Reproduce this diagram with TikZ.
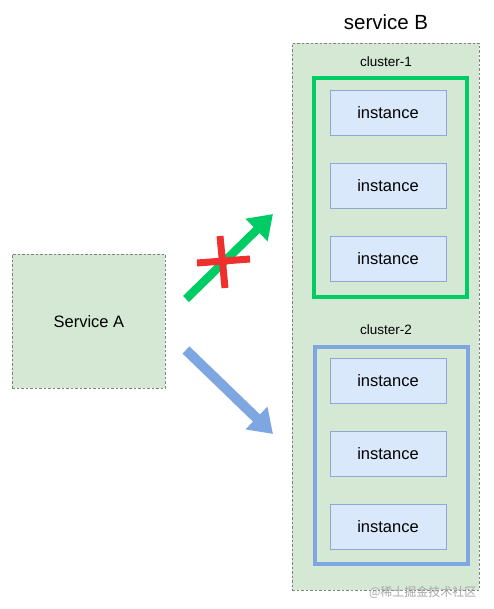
\documentclass[tikz,border=0pt]{standalone}
\usepackage{fontspec}
\setmainfont{Liberation Sans}
\newfontfamily\cjk{Noto Sans CJK SC}
\usetikzlibrary{arrows.meta}
\definecolor{bgreen}{HTML}{D5E8D4}
\definecolor{dgray}{HTML}{808080}
\definecolor{instfill}{HTML}{DAE8FC}
\definecolor{inststroke}{HTML}{8FA6D6}
\definecolor{clgreen}{HTML}{00CC66}
\definecolor{clblue}{HTML}{7EA6E0}
\definecolor{xred}{HTML}{F0302E}
\tikzset{
  svcbox/.style={draw=dgray, fill=bgreen, dash pattern=on 2.5pt off 2pt, line width=0.8pt},
  clusterbox/.style={line width=4pt},
  inst/.style={draw=inststroke, fill=instfill, line width=0.8pt, minimum width=116pt, minimum height=45pt, inner sep=0pt, font=\fontsize{16.5}{19}\selectfont},
  lbl/.style={font=\fontsize{13.5}{16}\selectfont},
  bigarrow/.style={line width=8.5pt, -{Triangle[length=23pt,width=30pt]}},
}
\begin{document}
\begin{tikzpicture}[x=1pt,y=-1pt]
\useasboundingbox (0,0) rectangle (494,609);
% service A
\node[svcbox, minimum width=153pt, minimum height=134pt, anchor=north west, font=\fontsize{16.5}{19}\selectfont] (sa) at (12,254) {Service A};
% service B
\node[svcbox, minimum width=187pt, minimum height=547pt, anchor=north west] (sb) at (292,43) {};
\node[font=\fontsize{20.5}{24}\selectfont] (sbt) at (386,22) {service B};
% cluster 1
\node[clusterbox, draw=clgreen, minimum width=153pt, minimum height=219pt, anchor=north west] (c1) at (312,76) {};
\node[lbl] (c1l) at (386,62) {cluster-1};
\node[inst] (i1) at (388,112.5) {instance};
\node[inst] (i2) at (388,185.5) {instance};
\node[inst] (i3) at (388,258.5) {instance};
% cluster 2
\node[clusterbox, draw=clblue, minimum width=153pt, minimum height=217pt, anchor=north west] (c2) at (313,345) {};
\node[lbl] (c2l) at (386,330) {cluster-2};
\node[inst] (i4) at (388,381) {instance};
\node[inst] (i5) at (388,454) {instance};
\node[inst] (i6) at (388,527) {instance};
% arrows
\coordinate (g0) at (186,299);
\coordinate (g1) at (273,214);
\coordinate (b0) at (186,350);
\coordinate (b1) at (273,434);
\draw[bigarrow, draw=clgreen, fill=clgreen] (g0) -- (g1);
\draw[bigarrow, line width=10pt, draw=clblue, fill=clblue] (b0) -- (b1);
% red X
\coordinate (xa) at (197,263);
\coordinate (xb) at (250,259);
\coordinate (xc) at (220,236);
\coordinate (xd) at (225,288);
\draw[xred, line width=7pt] (xa) -- (xb);
\draw[xred, line width=7pt] (xc) -- (xd);
% watermark
\node[anchor=east, text=gray!70, font=\cjk\fontsize{12}{14}\selectfont] (wm) at (480,592) {@稀土掘金技术社区};
\end{tikzpicture}
\end{document}
